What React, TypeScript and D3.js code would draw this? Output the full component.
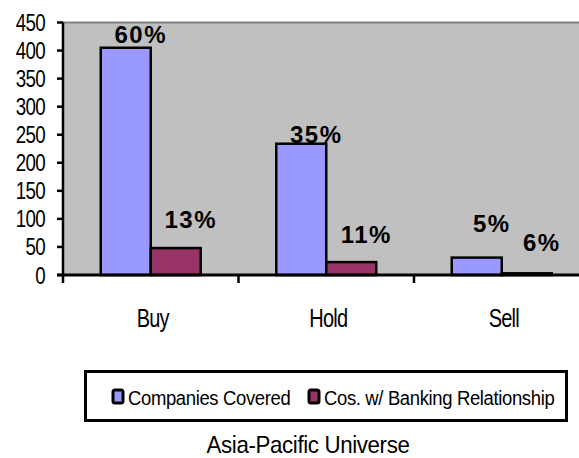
import React from "react";
import * as d3 from "d3";

const categories = ["Buy", "Hold", "Sell"];
const seriesNames = ["Companies Covered", "Cos. w/ Banking Relationship"];
const covered = [405, 234, 31];
const banking = [48, 23, 3];
const coveredPct = ["60%", "35%", "5%"];
const bankingPct = ["13%", "11%", "6%"];
// label baseline levels in data units
const coveredLabelAt = [413, 235, 77];
const bankingLabelAt = [84, 57, 43];
const yTicks = [0, 50, 100, 150, 200, 250, 300, 350, 400, 450];
const colors = ["#9999FF", "#993366"];
const title = "Asia-Pacific Universe";

const W = 579;
const H = 458;
const left = 63;
const top = 22.5;
const bottom = 275;
const font = "'Liberation Sans', Arial, sans-serif";

function NText(props: {
  x: number;
  y: number;
  size: number;
  anchor?: string;
  sx?: number;
  ls?: number;
  children: React.ReactNode;
}) {
  const { x, y, size, anchor = "start", sx = 0.8, ls = -0.6 } = props;
  return (
    <text
      transform={`translate(${x},${y}) scale(${sx},1)`}
      textAnchor={anchor}
      fontFamily={font}
      fontSize={size}
      letterSpacing={ls}
      fill="#000"
    >
      {props.children}
    </text>
  );
}

export default function App() {
  const x = d3.scaleBand<string>().domain(categories).range([left, left + 3 * 175.5]).padding(0);
  const x1 = d3.scaleBand<number>().domain([0, 1]).range([0, 100]).padding(0);
  const y = d3.scaleLinear().domain([0, 450]).range([bottom, top]);
  const groupOff = (x.bandwidth() - 100) / 2;
  const series = [covered, banking];
  const pcts = [coveredPct, bankingPct];
  const labelAt = [coveredLabelAt, bankingLabelAt];

  return (
    <svg width={W} height={H} style={{ position: "absolute", left: 0, top: 0 }}>
      <rect x={0} y={0} width={W} height={H} fill="#fff" />
      <rect x={left} y={top} width={W - left} height={bottom - top} fill="#C0C0C0" />
      <line x1={left} x2={W} y1={top} y2={top} stroke="#808080" strokeWidth={2} />
      {series.map((vals, s) =>
        categories.map((c, i) => (
          <rect
            key={`b${s}-${i}`}
            x={(x(c) as number) + groupOff + (x1(s) as number)}
            y={y(vals[i])}
            width={x1.bandwidth()}
            height={bottom - y(vals[i])}
            fill={colors[s]}
            stroke="#000"
            strokeWidth={2.5}
          />
        ))
      )}
      {/* axes */}
      <line x1={left} x2={left} y1={top} y2={bottom + 8} stroke="#000" strokeWidth={2.5} />
      <line x1={left - 6} x2={W} y1={bottom} y2={bottom} stroke="#000" strokeWidth={3} />
      {yTicks.map((t) => (
        <g key={`yt${t}`}>
          <line x1={left - 6} x2={left} y1={y(t)} y2={y(t)} stroke="#000" strokeWidth={2.5} />
          <NText x={45} y={y(t) + 8.5} size={24} anchor="end" sx={0.78} ls={-0.8}>
            {t}
          </NText>
        </g>
      ))}
      {categories.map((c, i) => (
        <g key={`xt${c}`}>
          {i > 0 && (
            <line x1={x(c)} x2={x(c)} y1={bottom} y2={bottom + 8} stroke="#000" strokeWidth={2.5} />
          )}
          <NText x={(x(c) as number) + x.bandwidth() / 2 + 2} y={327} size={25} anchor="middle" sx={0.8} ls={-1}>
            {c}
          </NText>
        </g>
      ))}
      {/* value labels */}
      {series.map((vals, s) =>
        categories.map((c, i) => (
          <text
            key={`l${s}-${i}`}
            x={(x(c) as number) + groupOff + (x1(s) as number) + x1.bandwidth() / 2 + 15}
            y={y(labelAt[s][i])}
            textAnchor="middle"
            fontFamily={font}
            fontWeight="bold"
            fontSize={24}
            letterSpacing={1.5}
            fill="#000"
          >
            {pcts[s][i]}
          </text>
        ))
      )}
      {/* legend */}
      <rect x={85.5} y={371.5} width={481} height={49} fill="#fff" stroke="#000" strokeWidth={3} />
      {seriesNames.map((n, s) => {
        const sx = s === 0 ? 113 : 309;
        return (
          <g key={`lg${s}`}>
            <rect x={sx} y={390} width={10} height={13} rx={2} fill={colors[s]} stroke="#000" strokeWidth={3} />
            <NText x={sx + 15} y={405} size={21} sx={0.88} ls={-0.4}>
              {n}
            </NText>
          </g>
        );
      })}
      <NText x={308} y={453} size={24} anchor="middle" sx={0.93} ls={-0.4}>
        {title}
      </NText>
    </svg>
  );
}
